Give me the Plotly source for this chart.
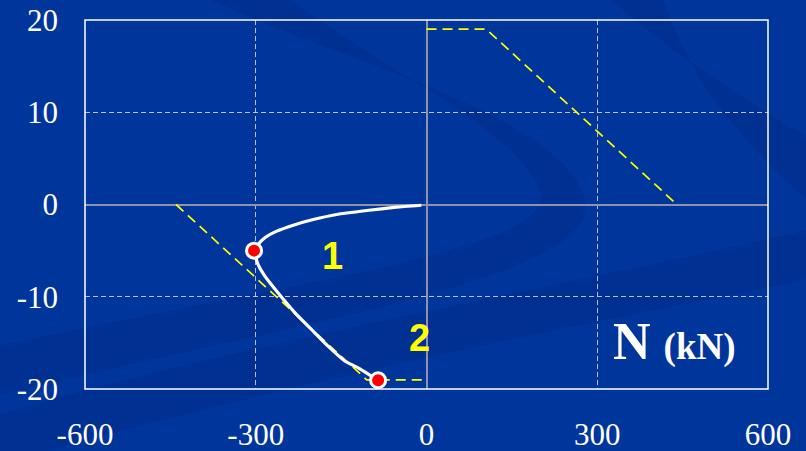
import plotly.graph_objects as go

# Interaction curve limits (dashed yellow)
lim_upper_x = [0, 105, 440]
lim_upper_y = [19, 19, 0]
lim_lower_x = [-440, -105, 0]
lim_lower_y = [0, -19, -19]

# Load path (white curve)
path_x = [-9, -53, -105, -158, -199, -234, -263, -284, -296, -303,
          -296, -284, -261, -231, -202, -173, -143, -120, -85]
path_y = [-0.08, -0.29, -0.65, -1.08, -1.63, -2.24, -2.89, -3.61, -4.34, -5.0,
          -6.5, -7.77, -9.57, -11.74, -13.55, -15.36, -16.99, -17.7, -19.05]

# Marked states
pts_x = [-303, -85]
pts_y = [-5.0, -19.05]

# Region labels
lab_text = ["1", "2"]
lab_x = [-165, -12]
lab_y = [-6.0, -14.8]

x_ticks = [-600, -300, 0, 300, 600]
y_ticks = [-20, -10, 0, 10, 20]

BG = "rgb(0,53,155)"

fig = go.Figure()

for lx, ly in [(lim_upper_x, lim_upper_y), (lim_lower_x, lim_lower_y)]:
    fig.add_trace(go.Scatter(x=lx, y=ly, mode="lines",
                             line=dict(color="#ffff00", width=1.7, dash="10px,6px"),
                             hoverinfo="skip", showlegend=False))

fig.add_trace(go.Scatter(x=path_x, y=path_y, mode="lines",
                         line=dict(color="white", width=3.2, shape="spline", smoothing=0.4),
                         showlegend=False))
fig.add_trace(go.Scatter(x=pts_x, y=pts_y, mode="markers",
                         marker=dict(color="#ff0000", size=15, line=dict(color="white", width=3)),
                         showlegend=False))
fig.add_trace(go.Scatter(x=lab_x, y=lab_y, mode="text", text=lab_text,
                         textfont=dict(family="Liberation Sans", size=38, color="#ffff00", weight="bold"),
                         showlegend=False))


# Decorative background swooshes, given in page pixels and mapped to paper coords
def P(x, y):
    return f"{(x - 85) / 683.0:.4f},{(389 - y) / 369.0:.4f}"


swoosh_a = (f"M{P(190, -10)} C{P(330, 60)} {P(560, 110)} {P(585, 200)} "
            f"C{P(600, 280)} {P(300, 320)} {P(-20, 400)} "
            f"L{P(-20, 350)} C{P(300, 280)} {P(560, 250)} {P(540, 190)} "
            f"C{P(510, 120)} {P(360, 60)} {P(280, -10)} Z")
swoosh_b = (f"M{P(-20, 420)} C{P(250, 340)} {P(550, 290)} {P(830, 225)} "
            f"L{P(830, 275)} C{P(550, 330)} {P(250, 390)} {P(-20, 470)} Z")
swoosh_c = (f"M{P(600, -10)} C{P(680, 60)} {P(760, 110)} {P(830, 150)} "
            f"L{P(830, 220)} C{P(760, 160)} {P(690, 90)} {P(660, -10)} Z")
for p in (swoosh_a, swoosh_b, swoosh_c):
    fig.add_shape(type="path", path=p, xref="paper", yref="paper",
                  fillcolor="rgba(0,30,110,0.22)", line=dict(width=0), layer="below")

# Plot frame
fig.add_shape(type="rect", xref="paper", yref="paper", x0=0, x1=1, y0=0, y1=1,
              line=dict(color="white", width=1.5), layer="above")

fig.add_annotation(x=324, y=-14.9, xref="x", yref="y", xanchor="left", yanchor="middle",
                   showarrow=False,
                   text="N <span style='font-size:37px'>(kN)</span>",
                   font=dict(family="Liberation Serif", size=52, color="white", weight="bold"))

axis_font = dict(family="Liberation Serif", size=31, color="white")
grid = dict(showgrid=True, gridcolor="rgba(215,215,225,0.85)", griddash="5px,3px", gridwidth=1,
            zeroline=True, zerolinecolor="rgb(140,148,175)", zerolinewidth=1.5,
            showline=False, ticks="", tickfont=axis_font, automargin=False)
fig.update_xaxes(range=[-600, 600], tickvals=x_ticks, ticktext=[str(v) for v in x_ticks],
                 ticklabelstandoff=24, **grid)
fig.update_yaxes(range=[-20, 20], tickvals=y_ticks, ticktext=[str(v) for v in y_ticks],
                 ticklabelstandoff=26, **grid)

fig.update_layout(width=806, height=451, margin=dict(l=85, r=38, t=20, b=62),
                  paper_bgcolor=BG, plot_bgcolor="rgba(0,0,0,0)", showlegend=False)

fig.write_html("out.html")
